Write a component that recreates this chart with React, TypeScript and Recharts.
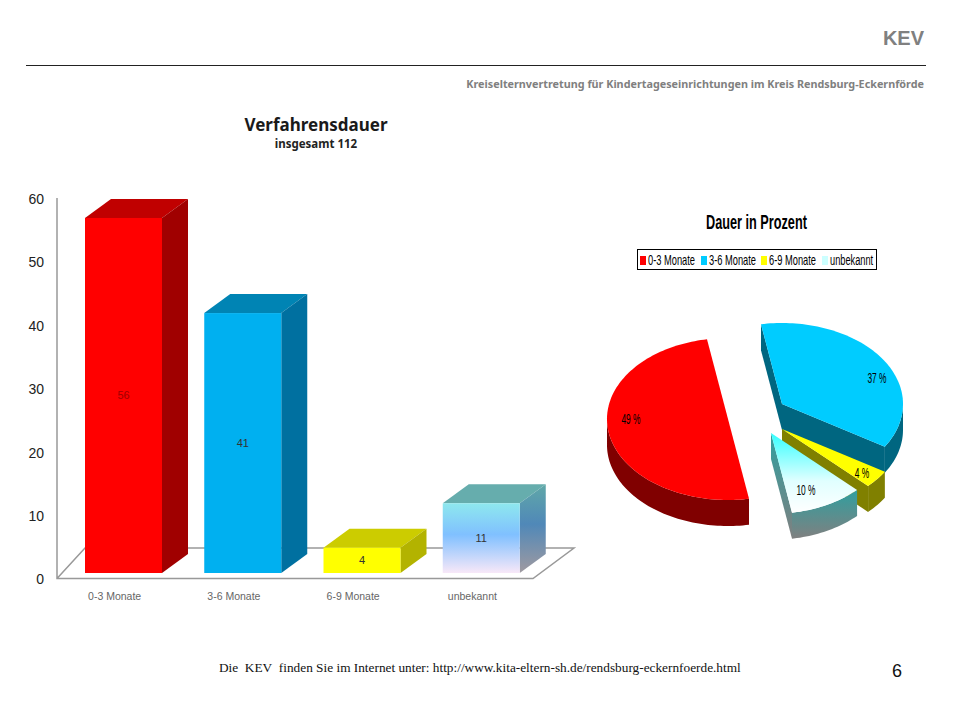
import { Bar, BarChart, LabelList, Legend, Pie, PieChart, XAxis, YAxis } from "recharts";

const categories = ["0-3 Monate", "3-6 Monate", "6-9 Monate", "unbekannt"];
const counts = [56, 41, 4, 11];
const percentLabels = ["49 %", "37 %", "4 %", "10 %"];
const yTicks = [0, 10, 20, 30, 40, 50, 60];

const barFront = ["#ff0000", "#00b0f0", "#ffff00", "url(#unkFront)"];
const barTop = ["#c00000", "#0084b4", "#cccc00", "#66adad"];
const barSide = ["#a00000", "#0070a0", "#b3b300", "url(#unkSide)"];
const valueColors = ["#a00000", "#333333", "#333333", "#333333"];

const pieTop = ["#ff0000", "#00ccff", "#ffff00", "url(#pieUnkTop)"];
const pieWall = ["#800000", "#006680", "#808000", "url(#pieUnkWall)"];
const legendSwatch = ["#ff0000", "#00ccff", "#ffff00", "#ccffff"];

// slices are pulled apart by hand in the original
const explode = [
  [0, 0],
  [54, -15],
  [54, 10],
  [43, 14],
];
const labelSpots = [
  [631, 419],
  [877, 378],
  [862, 473],
  [806, 490],
];

const DEPTH_X = 26;
const DEPTH_Y = 19;
const PIE_CX = 728;
const PIE_CY = 419;
const PIE_RX = 121;
const PIE_RY = 81;
const PIE_DEPTH = 26;

const barData = categories.map((name, i) => ({ name, count: counts[i] }));
const pieData = categories.map((name, i) => ({ name, count: counts[i], fill: legendSwatch[i] }));

function Box3D(props: any) {
  const { x, y, width, height, index } = props;
  const r = x + width;
  const b = y + height;
  return (
    <g>
      <path
        d={`M${x} ${y}L${x + DEPTH_X} ${y - DEPTH_Y}L${r + DEPTH_X} ${y - DEPTH_Y}L${r} ${y}Z`}
        fill={barTop[index]}
      />
      <path
        d={`M${r} ${y}L${r + DEPTH_X} ${y - DEPTH_Y}L${r + DEPTH_X} ${b - DEPTH_Y}L${r} ${b}Z`}
        fill={barSide[index]}
      />
      <rect x={x} y={y} width={width} height={height} fill={barFront[index]} />
    </g>
  );
}

function Slice3D(props: any) {
  const { startAngle, endAngle, index } = props;
  const i = index ?? pieData.findIndex((d) => d.name === props.name);
  const cx = PIE_CX + explode[i][0];
  const cy = PIE_CY + explode[i][1];
  const pt = (deg: number): [number, number] => [
    cx + PIE_RX * Math.cos((deg * Math.PI) / 180),
    cy - PIE_RY * Math.sin((deg * Math.PI) / 180),
  ];
  const rim: [number, number][] = [];
  const visible: [number, number][] = [];
  for (let t = startAngle; t > endAngle; t -= 1.5) {
    rim.push(pt(t));
    if (Math.sin((t * Math.PI) / 180) <= 0) visible.push(pt(t));
  }
  rim.push(pt(endAngle));
  if (Math.sin((endAngle * Math.PI) / 180) <= 0) visible.push(pt(endAngle));

  const top = `M${cx} ${cy}` + rim.map((p) => `L${p[0]} ${p[1]}`).join("") + "Z";
  const walls: string[] = [];
  const face = (p: [number, number]) =>
    `M${cx} ${cy}L${p[0]} ${p[1]}L${p[0]} ${p[1] + PIE_DEPTH}L${cx} ${cy + PIE_DEPTH}Z`;
  if (Math.cos((startAngle * Math.PI) / 180) < 0) walls.push(face(pt(startAngle)));
  if (Math.cos((endAngle * Math.PI) / 180) > 0) walls.push(face(pt(endAngle)));
  if (visible.length > 1) {
    const down = [...visible].reverse().map((p) => `L${p[0]} ${p[1] + PIE_DEPTH}`);
    walls.push("M" + visible.map((p) => `${p[0]} ${p[1]}`).join("L") + down.join("") + "Z");
  }
  return (
    <g>
      {walls.map((d, k) => (
        <path key={k} d={d} fill={pieWall[i]} />
      ))}
      <path d={top} fill={pieTop[i]} />
      <text
        transform={`translate(${labelSpots[i][0]} ${labelSpots[i][1]}) scale(0.56 1)`}
        textAnchor="middle"
        dominantBaseline="central"
        fontFamily="Liberation Sans"
        fontSize={15}
        fill="#000"
      >
        {percentLabels[i]}
      </text>
    </g>
  );
}

function PieLegend() {
  const swatchX = [3, 64, 124, 185];
  const textX = [11, 72, 132, 193];
  const textScale = [0.665, 0.665, 0.665, 0.66];
  return (
    <svg width={240} height={21} style={{ display: "block" }}>
      <rect x={0.5} y={0.5} width={239} height={20} fill="#fff" stroke="#000" />
      {categories.map((name, i) => (
        <g key={name}>
          <rect x={swatchX[i]} y={7} width={6} height={9} fill={legendSwatch[i]} />
          <text
            transform={`translate(${textX[i]} 16) scale(${textScale[i]} 1)`}
            fontFamily="Liberation Sans"
            fontSize={14}
          >
            {name}
          </text>
        </g>
      ))}
    </svg>
  );
}

const abs = (style: any) => ({ position: "absolute" as const, whiteSpace: "nowrap" as const, ...style });

export default function App() {
  return (
    <div style={{ position: "absolute", left: 0, top: 0, width: 960, height: 720, background: "#fff", overflow: "hidden" }}>
      <div style={abs({ right: 36, top: 27, font: "bold 20px 'Liberation Sans'", color: "#808080" })}>KEV</div>
      <div style={abs({ left: 26, top: 65, width: 900, height: 1, background: "#222" })} />
      <div style={abs({ right: 36, top: 76, font: "bold 10.8px 'Noto Sans'", color: "#808080" })}>
        Kreiselternvertretung für Kindertageseinrichtungen im Kreis Rendsburg-Eckernförde
      </div>
      <div style={abs({ left: 166, width: 300, textAlign: "center", top: 113, font: "bold 17px 'Noto Sans'", color: "#1a1a1a" })}>
        Verfahrensdauer
      </div>
      <div style={abs({ left: 166, width: 300, textAlign: "center", top: 136, font: "bold 11.5px 'Noto Sans'", color: "#222" })}>
        insgesamt 112
      </div>
      <div style={abs({ left: 219, top: 660, font: "13.3px 'Liberation Serif'", color: "#111" })}>
        Die&nbsp; KEV&nbsp; finden Sie im Internet unter: http://www.kita-eltern-sh.de/rendsburg-eckernfoerde.html
      </div>
      <div style={abs({ left: 892, top: 661, font: "18px 'Liberation Sans'", color: "#111" })}>6</div>
      <svg width={960} height={40} style={{ position: "absolute", left: 0, top: 203 }}>
        <text
          transform="translate(706 26) scale(0.635 1)"
          fontFamily="Liberation Sans"
          fontWeight="bold"
          fontSize={20}
        >
          Dauer in Prozent
        </text>
      </svg>

      <div style={{ position: "absolute", left: 0, top: 0 }}>
        <BarChart
          width={960}
          height={720}
          data={barData}
          barSize={77}
          margin={{ top: 192.6, right: 419, bottom: 107, left: 0 }}
        >
          <defs>
            <linearGradient id="unkFront" x1="0" y1="0" x2="0" y2="1">
              <stop offset="0" stopColor="#8ee8ee" />
              <stop offset="0.45" stopColor="#80c0ff" />
              <stop offset="1" stopColor="#f8e8f8" />
            </linearGradient>
            <linearGradient id="unkSide" x1="0" y1="0" x2="0" y2="1">
              <stop offset="0" stopColor="#60a8a8" />
              <stop offset="0.45" stopColor="#5088b8" />
              <stop offset="1" stopColor="#a09aa0" />
            </linearGradient>
          </defs>
          <g stroke="#999999" strokeWidth={1.5} fill="none">
            <path d="M57 198V578.5H533L574 548H85L57 578.5" />
          </g>
          <XAxis
            dataKey="name"
            height={40}
            axisLine={false}
            tickLine={false}
            interval={0}
            tick={{ fontSize: 10.5, fill: "#666666", fontFamily: "Liberation Sans", dx: -9, dy: 12 }}
          />
          <YAxis
            domain={[0, 60]}
            ticks={yTicks}
            width={64}
            axisLine={false}
            tickLine={false}
            tickMargin={14}
            tick={{ fontSize: 14, fill: "#222222", fontFamily: "Liberation Sans", dy: 6.5 }}
          />
          <Bar dataKey="count" shape={Box3D} isAnimationActive={false}>
            <LabelList
              dataKey="count"
              content={(p: any) => (
                <text
                  x={p.x + p.width / 2}
                  y={p.y + p.height / 2}
                  textAnchor="middle"
                  dominantBaseline="central"
                  fontFamily="Liberation Sans"
                  fontSize={11}
                  fill={valueColors[p.index]}
                >
                  {p.value}
                </text>
              )}
            />
          </Bar>
        </BarChart>
      </div>

      <div style={{ position: "absolute", left: 0, top: 0 }}>
        <PieChart width={960} height={720}>
          <defs>
            <linearGradient id="pieUnkTop" x1="0" y1="0" x2="0" y2="1">
              <stop offset="0" stopColor="#33ffff" />
              <stop offset="0.6" stopColor="#e0ffff" />
              <stop offset="1" stopColor="#ffffff" />
            </linearGradient>
            <linearGradient id="pieUnkWall" x1="0" y1="0" x2="0" y2="1">
              <stop offset="0" stopColor="#2f9f9f" />
              <stop offset="1" stopColor="#808080" />
            </linearGradient>
          </defs>
          <Pie
            data={pieData}
            dataKey="count"
            nameKey="name"
            cx={PIE_CX}
            cy={PIE_CY}
            outerRadius={PIE_RX}
            startAngle={280}
            endAngle={-80}
            stroke="none"
            shape={Slice3D}
            isAnimationActive={false}
          />
          <Legend
            content={PieLegend}
            wrapperStyle={{ left: 637, top: 249, width: 240, bottom: "auto" }}
          />
        </PieChart>
      </div>
    </div>
  );
}
